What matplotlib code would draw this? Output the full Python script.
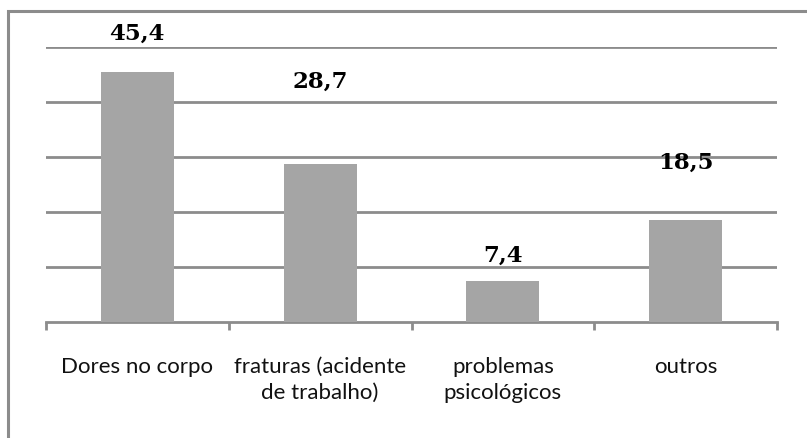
import matplotlib
matplotlib.use("Agg")
import matplotlib.pyplot as plt
from matplotlib.patches import Rectangle
import numpy as np

categories = ["Dores no corpo", "fraturas (acidente\nde trabalho)", "problemas\npsicológicos", "outros"]
values = [45.4, 28.7, 7.4, 18.5]
value_labels = ["45,4", "28,7", "7,4", "18,5"]
label_offsets_px = [39, 82, 26, 57]

fig = plt.figure(figsize=(8.07, 4.38), dpi=100)
ax = fig.add_axes([46/807, 1-322/438, (777-46)/807, 275/438])

x = np.arange(len(categories))
ax.bar(x, values, width=0.4, color="#a5a5a5", zorder=3)
ax.set_xlim(-0.5, len(categories) - 0.5)
ax.set_ylim(0, 50)
ax.set_yticks([10, 20, 30, 40, 50])
ax.yaxis.grid(True, color="#8c8c8c", linewidth=2.0, zorder=1)
ax.tick_params(axis="y", left=False, labelleft=False)
for s in ["left", "right", "top"]:
    ax.spines[s].set_visible(False)
ax.spines["bottom"].set_color("#8c8c8c")
ax.spines["bottom"].set_linewidth(2.0)

ax.set_xticks(x)
ax.set_xticklabels(categories, fontsize=16, family="Lato", color="#111111", linespacing=1.4)
ax.tick_params(axis="x", which="major", length=0, pad=25)
ax.set_xticks(np.arange(len(categories) + 1) - 0.5, minor=True)
ax.tick_params(axis="x", which="minor", length=6, width=2, color="#8c8c8c")

for xi, v, lab, off in zip(x, values, value_labels, label_offsets_px):
    ax.annotate(lab, (xi, v), xytext=(0, off * 0.72), textcoords="offset points",
                ha="center", va="center", fontsize=16.5, fontweight="bold",
                family="DejaVu Serif", color="#000000", annotation_clip=False)

fig.patches.append(Rectangle((8/807, -0.05), 1.1, 1 - 11/438 + 0.05, transform=fig.transFigure,
                             fill=False, edgecolor="#8c8c8c", linewidth=2.2))
fig.savefig("out.png", dpi=100)
